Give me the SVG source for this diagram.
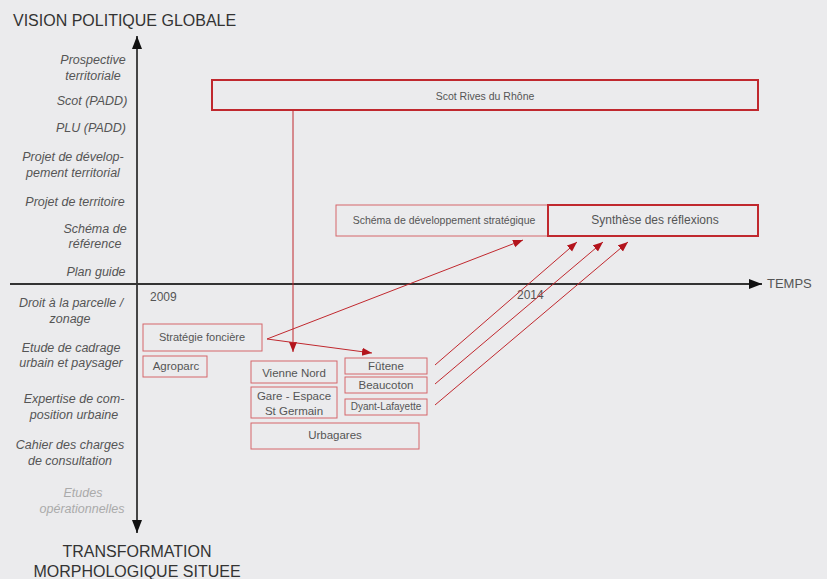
<svg xmlns="http://www.w3.org/2000/svg" width="827" height="579" viewBox="0 0 827 579">
<style>
.bg{fill:#ebebed}
.axis{stroke:#333;stroke-width:1.8;fill:none}
.title{font-family:"Liberation Sans",Arial,sans-serif;font-size:16px;fill:#333}
.lab{font-family:"Liberation Sans",Arial,sans-serif;font-size:12.5px;font-style:italic;fill:#555;text-anchor:middle}
.lab.light{fill:#aaa}
.year{font-family:"Liberation Sans",Arial,sans-serif;font-size:12px;fill:#555}
.box{fill:none;stroke:#d5666b;stroke-width:1}
.box.strong{stroke:#c0282e;stroke-width:2}
.bt{font-family:"Liberation Sans",Arial,sans-serif;font-size:11.5px;fill:#555;text-anchor:middle}
.conn{stroke:#c0282e;stroke-width:1;fill:none}
</style>
<defs>
<marker id="ra" markerUnits="userSpaceOnUse" markerWidth="11" markerHeight="9" refX="10" refY="4" orient="auto">
<path d="M0,0 L10,4 L0,8 z" fill="#b3141c"/>
</marker>
<marker id="ka" markerUnits="userSpaceOnUse" markerWidth="14" markerHeight="11" refX="13" refY="5" orient="auto-start-reverse">
<path d="M0,0 L13,5 L0,10 z" fill="#111"/>
</marker>
</defs>
<rect class="bg" x="0" y="0" width="827" height="579"/>

<g id="axes">
<line class="axis" x1="137" y1="36" x2="137" y2="533" marker-start="url(#ka)" marker-end="url(#ka)"/>
<line class="axis" x1="10" y1="284" x2="762" y2="284" marker-end="url(#ka)"/>
<text class="title" x="13" y="26">VISION POLITIQUE GLOBALE</text>
<text class="title" x="137" y="557" text-anchor="middle">TRANSFORMATION</text>
<text class="title" x="137" y="577" text-anchor="middle">MORPHOLOGIQUE SITUEE</text>
<text class="year" x="767" y="288" style="font-size:13px">TEMPS</text>
<text class="year" x="150" y="301">2009</text>
<text class="year" x="517" y="299">2014</text>
</g>

<g id="levels">
<text class="lab" x="93" y="64">Prospective</text>
<text class="lab" x="93" y="80">territoriale</text>
<text class="lab" x="92" y="105">Scot (PADD)</text>
<text class="lab" x="91" y="132">PLU (PADD)</text>
<text class="lab" x="73" y="161">Projet de dévelop-</text>
<text class="lab" x="73" y="177">pement territorial</text>
<text class="lab" x="75" y="206">Projet de territoire</text>
<text class="lab" x="95" y="233">Schéma de</text>
<text class="lab" x="95" y="248">référence</text>
<text class="lab" x="96" y="276">Plan guide</text>
<text class="lab" x="71" y="307">Droit à la parcelle /</text>
<text class="lab" x="70" y="323">zonage</text>
<text class="lab" x="71" y="352">Etude de cadrage</text>
<text class="lab" x="71" y="367">urbain et paysager</text>
<text class="lab" x="74" y="403">Expertise de com-</text>
<text class="lab" x="74" y="419">position urbaine</text>
<text class="lab" x="70" y="449">Cahier des charges</text>
<text class="lab" x="70" y="465">de consultation</text>
<text class="lab light" x="83" y="497">Etudes</text>
<text class="lab light" x="82" y="513">opérationnelles</text>
</g>

<g id="n-scot">
<rect class="box strong" x="212" y="80" width="546" height="30"/>
<text class="bt" x="485" y="100" style="font-size:10.5px">Scot Rives du Rhône</text>
</g>
<g id="n-schema">
<rect class="box" x="336" y="205" width="212" height="31"/>
<text class="bt" x="444" y="224" style="font-size:10.5px">Schéma de développement stratégique</text>
</g>
<g id="n-synthese">
<rect class="box strong" x="548" y="205" width="210" height="31"/>
<text class="bt" x="655" y="224" style="font-size:12px">Synthèse des réflexions</text>
</g>
<g id="n-strategie">
<rect class="box" x="143" y="324" width="119" height="27"/>
<text class="bt" x="202" y="341" style="font-size:11px">Stratégie foncière</text>
</g>
<g id="n-agroparc">
<rect class="box" x="143" y="356" width="64" height="21"/>
<text class="bt" x="176" y="370">Agroparc</text>
</g>
<g id="n-vienne">
<rect class="box" x="251" y="361" width="86" height="22"/>
<text class="bt" x="294" y="377">Vienne Nord</text>
</g>
<g id="n-gare">
<rect class="box" x="251" y="387" width="86" height="31"/>
<text class="bt" x="294" y="400">Gare - Espace</text>
<text class="bt" x="294" y="415">St Germain</text>
</g>
<g id="n-urbagares">
<rect class="box" x="251" y="423" width="168" height="26"/>
<text class="bt" x="335" y="439">Urbagares</text>
</g>
<g id="n-futene">
<rect class="box" x="345" y="358" width="82" height="16"/>
<text class="bt" x="386" y="370">Fûtene</text>
</g>
<g id="n-beaucoton">
<rect class="box" x="345" y="377" width="82" height="16"/>
<text class="bt" x="386" y="389">Beaucoton</text>
</g>
<g id="n-dyant">
<rect class="box" x="345" y="399" width="82" height="16"/>
<text class="bt" x="386" y="410" style="font-size:10px">Dyant-Lafayette</text>
</g>

<g id="connectors">
<line class="conn" x1="293" y1="111" x2="293" y2="352" marker-end="url(#ra)"/>
<line class="conn" x1="267" y1="339" x2="523" y2="240" marker-end="url(#ra)"/>
<line class="conn" x1="267" y1="339" x2="372" y2="353" marker-end="url(#ra)"/>
<line class="conn" x1="435" y1="365" x2="577" y2="242" marker-end="url(#ra)"/>
<line class="conn" x1="435" y1="384" x2="603" y2="242" marker-end="url(#ra)"/>
<line class="conn" x1="435" y1="405" x2="628" y2="242" marker-end="url(#ra)"/>
</g>
</svg>
